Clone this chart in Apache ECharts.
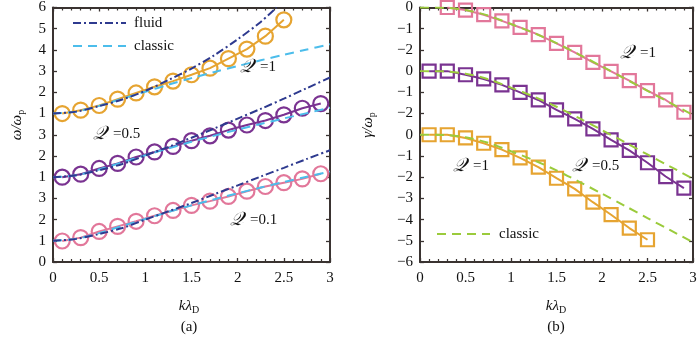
<!DOCTYPE html>
<html><head><meta charset="utf-8">
<script src="https://cdn.jsdelivr.net/npm/echarts@6/dist/echarts.min.js"></script>
<style>html,body{margin:0;padding:0;background:#fff}#c{width:700px;height:340px}</style>
</head><body><div id="c"></div>
<script>
// ---------- data ----------
// left panel: omega/omega_p, stacked with offsets 0 / 3 / 6 on the axis
const kMarks = [0.1,0.3,0.5,0.7,0.9,1.1,1.3,1.5,1.7,1.9,2.1,2.3,2.5,2.7,2.9];
const kMarksQ1 = [0.1,0.3,0.5,0.7,0.9,1.1,1.3,1.5,1.7,1.9,2.1,2.3,2.5];
const omegaQ01 = [0.99,1.15,1.44,1.68,1.92,2.18,2.43,2.67,2.87,3.09,3.34,3.56,3.74,3.92,4.16];
const omegaQ05 = [1.0,1.14,1.41,1.65,1.95,2.19,2.45,2.72,2.95,3.22,3.46,3.67,3.94,4.25,4.47];
const omegaQ1  = [1.0,1.16,1.38,1.68,1.97,2.26,2.53,2.83,3.14,3.59,4.04,4.65,5.42];
const kLine = [0,0.25,0.5,0.75,1,1.25,1.5,1.75,2,2.25,2.5,2.75,3];
const fluidQ01 = [1.0,1.09,1.32,1.6,2.0,2.39,2.78,3.2,3.61,4.03,4.44,4.86,5.27];
const fluidQ05 = [1.0,1.09,1.33,1.62,2.02,2.43,2.86,3.3,3.76,4.22,4.7,5.2,5.7];
const kFluidQ1 = [0,0.25,0.5,0.75,1,1.25,1.5,1.75,2,2.25,2.42];
const fluidQ1  = [1.0,1.09,1.35,1.66,2.07,2.58,3.12,3.76,4.5,5.32,6.0];
const classicOmega = [1.0,1.09,1.36,1.7,2.03,2.36,2.67,2.96,3.24,3.51,3.77,4.02,4.27];
const omegaOffsets = [0,3,6];
const leftYTicks = ['0','1','2','3','1','2','3','1','2','3','4','5','6'];

// right panel: gamma/omega_p, stacked with offsets 0 / -3 / -6
const kPinkSq = [0.3,0.5,0.7,0.9,1.1,1.3,1.5,1.7,1.9,2.1,2.3,2.5,2.7,2.9];
const gammaPink   = [0.0,-0.12,-0.34,-0.63,-0.94,-1.28,-1.69,-2.12,-2.59,-3.01,-3.45,-3.92,-4.36,-4.94];
const gammaPurple = [0,0,-0.17,-0.37,-0.65,-1.0,-1.36,-1.83,-2.25,-2.72,-3.24,-3.74,-4.32,-4.97,-5.52];
const gammaOrange = [0,0,-0.15,-0.4,-0.7,-1.09,-1.53,-2.05,-2.55,-3.18,-3.77,-4.4,-4.95];
const classicGamma = [0,-0.01,-0.12,-0.38,-0.78,-1.2,-1.68,-2.22,-2.78,-3.35,-3.93,-4.5,-5.07];
const gammaOffsets = [0,-3,-6];
const rightYTicks = ['\u22126','\u22125','\u22124','\u22123','\u22122','\u22121','0','\u22122','\u22121','0','\u22122','\u22121','0'];
const xTicks = ['0','0.5','1','1.5','2','2.5','3'];

// ---------- styles ----------
const C = {pink:'#E2779A', purple:'#7A3391', orange:'#E6A431', fluid:'#2E3A8F', classic:'#4CBDEB', green:'#9BCB3C', axis:'#3a3331'};
const FONT = '"Liberation Serif","Times New Roman",serif';
const pair = (ks, vs, off) => ks.map((k,i)=>[k, vs[i]+off]);

function xAx(grid, pos){
  return {type:'value', gridIndex:grid, position:pos, min:0, max:3, interval:0.5,
    axisLine:{show:true,onZero:false,lineStyle:{color:C.axis,width:2}},
    axisTick:{show:true,inside:true,length:4,lineStyle:{color:C.axis,width:1.3}},
    minorTick:{show:true,splitNumber:5,length:3,lineStyle:{color:C.axis,width:1.2}},
    splitLine:{show:false},
    axisLabel:{show:pos==='bottom',margin:9,color:'#111',fontFamily:FONT,fontSize:15,
      formatter:v=>xTicks[Math.round(v*2)]}};
}
function yAx(grid,pos,min,max,ticks){
  return {type:'value', gridIndex:grid, position:pos, min:min, max:max, interval:1,
    axisLine:{show:true,onZero:false,lineStyle:{color:C.axis,width:2}},
    axisTick:{show:true,inside:true,length:4,lineStyle:{color:C.axis,width:1.3}},
    splitLine:{show:false},
    axisLabel:{show:pos==='left',margin:7,color:'#111',fontFamily:FONT,fontSize:15,
      formatter:v=>ticks[Math.round(v-min)]}};
}
function markSeries(xi, yi, data, color, symbol, size){
  return {type:'line', xAxisIndex:xi, yAxisIndex:yi, data:data, symbol:symbol, symbolSize:size,
    showSymbol:true, lineStyle:{color:color,width:2}, itemStyle:{color:'rgba(255,255,255,0)',borderColor:color,borderWidth:2.2},
    emphasis:{disabled:true}, silent:true, z:3};
}
function curveSeries(xi, yi, data, color, dash, w){
  return {type:'line', xAxisIndex:xi, yAxisIndex:yi, data:data, symbol:'none', smooth:0.3,
    lineStyle:{color:color,width:w||2,type:dash}, emphasis:{disabled:true}, silent:true, z:4};
}
const dashDot = [8,3,2,3];
const dashed = [9,6];

const series = [
  markSeries(0,0,pair(kMarks,omegaQ01,omegaOffsets[0]),C.pink,'circle',15),
  markSeries(0,0,pair(kMarks,omegaQ05,omegaOffsets[1]),C.purple,'circle',15),
  markSeries(0,0,pair(kMarksQ1,omegaQ1,omegaOffsets[2]),C.orange,'circle',15),
  curveSeries(0,0,pair(kLine,classicOmega,omegaOffsets[0]),C.classic,dashed),
  curveSeries(0,0,pair(kLine,classicOmega,omegaOffsets[1]),C.classic,dashed),
  curveSeries(0,0,pair(kLine,classicOmega,omegaOffsets[2]),C.classic,dashed),
  curveSeries(0,0,pair(kLine,fluidQ01,omegaOffsets[0]),C.fluid,dashDot),
  curveSeries(0,0,pair(kLine,fluidQ05,omegaOffsets[1]),C.fluid,dashDot),
  curveSeries(0,0,pair(kFluidQ1,fluidQ1,omegaOffsets[2]),C.fluid,dashDot),
  markSeries(2,2,pair(kPinkSq,gammaPink,gammaOffsets[0]),C.pink,'rect',13),
  markSeries(2,2,pair(kMarks,gammaPurple,gammaOffsets[1]),C.purple,'rect',13),
  markSeries(2,2,pair(kMarksQ1,gammaOrange,gammaOffsets[2]),C.orange,'rect',13),
  curveSeries(2,2,pair(kLine,classicGamma,gammaOffsets[0]),C.green,dashed),
  curveSeries(2,2,pair(kLine,classicGamma,gammaOffsets[1]),C.green,dashed),
  curveSeries(2,2,pair(kLine,classicGamma,gammaOffsets[2]),C.green,dashed)
];

function qLabel(x,y,val){
  return {type:'text', x:x, y:y, z:10, style:{text:'{q|\uD835\uDCAC}{t|='+val+'}', textVerticalAlign:'middle',
    rich:{q:{fontFamily:FONT,fontSize:19,fontStyle:'italic',fill:'#111',padding:[0,6,0,0]}, t:{fontFamily:FONT,fontSize:15,fill:'#111'}}}};
}
function legendLine(x1,x2,y,color,dash){
  return {type:'line', z:10, shape:{x1:x1,y1:y,x2:x2,y2:y}, style:{stroke:color,lineWidth:2.2,lineDash:dash}};
}
function plainText(x,y,t,opt){
  return Object.assign({type:'text', x:x, y:y, z:10, style:{text:t, font:'15px '+FONT, fill:'#111', textVerticalAlign:'middle'}}, opt||{});
}
const graphic = [
  legendLine(73,126,23,C.fluid,dashDot), plainText(134,23,'fluid'),
  legendLine(73,126,46,C.classic,dashed), plainText(134,46,'classic'),
  qLabel(240,67,'1'), qLabel(93,134,'0.5'), qLabel(230,220,'0.1'),
  legendLine(437,490,234,C.green,dashed), plainText(499,234,'classic'),
  qLabel(620,53,'1'), qLabel(453,166,'1'), qLabel(572,166,'0.5'),
  // axis names
  {type:'text', x:17, y:125, rotation:Math.PI/2, z:10, style:{text:'{i|\u03C9/\u03C9}{s|p}', textAlign:'center', textVerticalAlign:'middle',
    rich:{i:{fontFamily:FONT,fontSize:15,fontStyle:'italic',fill:'#111'}, s:{fontFamily:FONT,fontSize:10,fill:'#111',padding:[8,0,0,0]}}}},
  {type:'text', x:368, y:125, rotation:Math.PI/2, z:10, style:{text:'{i|\u03B3/\u03C9}{s|p}', textAlign:'center', textVerticalAlign:'middle',
    rich:{i:{fontFamily:FONT,fontSize:15,fontStyle:'italic',fill:'#111'}, s:{fontFamily:FONT,fontSize:10,fill:'#111',padding:[8,0,0,0]}}}},
  {type:'text', x:189, y:306, z:10, style:{text:'{i|k\u03BB}{s|D}', textAlign:'center', textVerticalAlign:'middle',
    rich:{i:{fontFamily:FONT,fontSize:15,fontStyle:'italic',fill:'#111'}, s:{fontFamily:FONT,fontSize:10,fill:'#111',padding:[8,0,0,0]}}}},
  {type:'text', x:556, y:306, z:10, style:{text:'{i|k\u03BB}{s|D}', textAlign:'center', textVerticalAlign:'middle',
    rich:{i:{fontFamily:FONT,fontSize:15,fontStyle:'italic',fill:'#111'}, s:{fontFamily:FONT,fontSize:10,fill:'#111',padding:[8,0,0,0]}}}},
  plainText(189,327,'(a)',{style:{text:'(a)',font:'15px '+FONT,fill:'#111',textAlign:'center',textVerticalAlign:'middle'}}),
  plainText(556,327,'(b)',{style:{text:'(b)',font:'15px '+FONT,fill:'#111',textAlign:'center',textVerticalAlign:'middle'}})
];

const chart = echarts.init(document.getElementById('c'), null, {renderer:'canvas'});
chart.setOption({
  animation:false, backgroundColor:'#fff',
  grid:[{left:53,right:370,top:7,bottom:78},{left:420,right:7,top:7,bottom:78}],
  xAxis:[xAx(0,'bottom'),xAx(0,'top'),xAx(1,'bottom'),xAx(1,'top')],
  yAxis:[yAx(0,'left',0,12,leftYTicks),yAx(0,'right',0,12,leftYTicks),yAx(1,'left',-12,0,rightYTicks),yAx(1,'right',-12,0,rightYTicks)],
  series:series, graphic:graphic
});
</script></body></html>
